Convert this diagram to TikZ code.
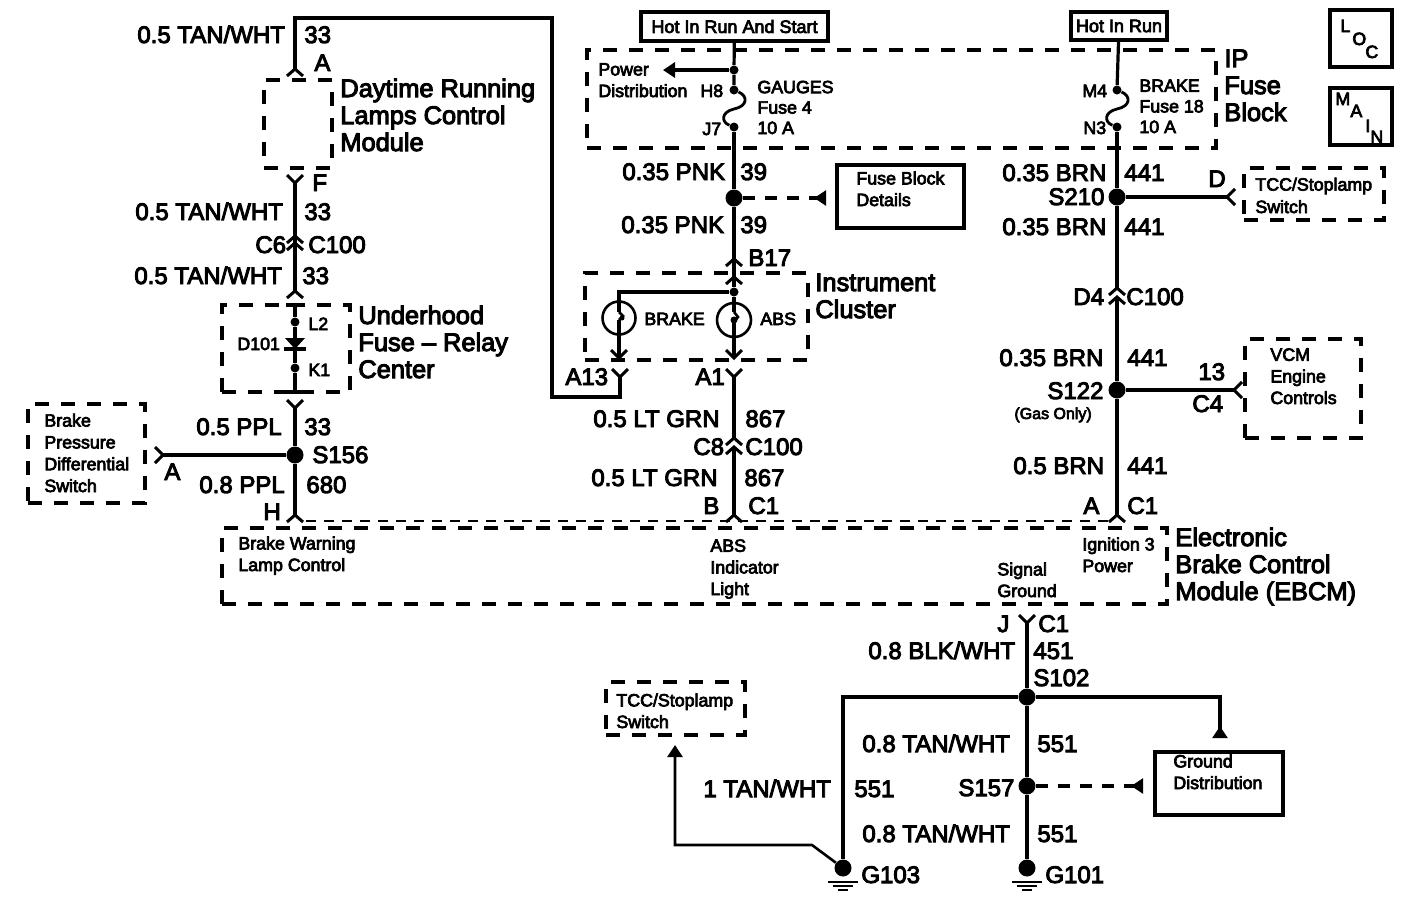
\documentclass[tikz,border=0pt]{standalone}
\usepackage{fontspec}
\setmainfont{Liberation Sans}
\newfontfamily\bigf{Liberation Sans}[FakeBold=4]
\newfontfamily\smf{Liberation Sans}[FakeBold=4]
\usetikzlibrary{arrows.meta,calc}
\tikzset{
  bigt/.style={font=\bigf\fontsize{12}{13.5}\selectfont,inner sep=0pt,anchor=base west,align=left},
  titlet/.style={font=\bigf\fontsize{12.7}{13.5}\selectfont,inner sep=0pt,anchor=base west,align=left},
  smt/.style={font=\smf\fontsize{8.9}{10.8}\selectfont,inner sep=0pt,anchor=base west,align=left},
  wire/.style={line width=1.6pt,line cap=butt,line join=miter},
  dashbox/.style={draw,line width=1.7pt,dash pattern=on 7pt off 6pt,inner sep=0pt},
  solidbox/.style={draw,line width=1.8pt,inner sep=0pt},
  dotb/.style={circle,fill,inner sep=0pt,minimum size=8.5pt},
  dots/.style={circle,fill,inner sep=0pt,minimum size=4.5pt},
  dashw/.style={line width=1.6pt,dash pattern=on 6pt off 5pt},
  tri/.tip={Triangle[length=6pt,width=7.5pt]},
  trir/.tip={Triangle[reversed,length=6pt,width=7.5pt]},
  chev/.style={line width=1.5pt}
}
% connector marks: apex at the coordinate, arms away from it
\newcommand\chU[1]{\draw[chev] ($(#1)+(-8,7)$) -- (#1) -- ($(#1)+(8,7)$);}
\newcommand\chY[1]{\draw[chev] ($(#1)+(-8,-8)$) -- (#1) -- ($(#1)+(8,-8)$);}
\newcommand\chL[1]{\draw[chev] ($(#1)+(8,-8)$) -- (#1) -- ($(#1)+(8,8)$);}
\newcommand\chR[1]{\draw[chev] ($(#1)+(-8,-8)$) -- (#1) -- ($(#1)+(-8,8)$);}
\newcommand\grd[1]{%
  \draw[line width=1.3pt] ($(#1)+(-15,14)$) -- ($(#1)+(15,14)$);
  \draw[line width=1.3pt] ($(#1)+(-10,18)$) -- ($(#1)+(10,18)$);
  \draw[line width=1.3pt] ($(#1)+(-5,22)$) -- ($(#1)+(5,22)$);}
\begin{document}
\begin{tikzpicture}[x=0.5pt,y=-0.5pt]
\useasboundingbox (0,0) rectangle (1408,902);
\fill[white] (0,0) rectangle (1408,902);

% boxes
\node[dashbox,minimum width=34pt,minimum height=44pt] (drl) at (298,124) {};
\node[dashbox,minimum width=64pt,minimum height=43.5pt] (uh) at (286,348.5) {};
\node[dashbox,minimum width=58.5pt,minimum height=49.5pt] (bpd) at (86.5,453.5) {};
\node[dashbox,minimum width=111.5pt,minimum height=43.5pt] (ic) at (696.5,316.5) {};
\node[dashbox,minimum width=472.5pt,minimum height=38pt] (ebcm) at (694.5,566) {};
\node[dashbox,minimum width=314.5pt,minimum height=49pt] (ip) at (901.5,99) {};
\node[dashbox,minimum width=70pt,minimum height=26pt] (tcca) at (1314,194) {};
\node[dashbox,minimum width=58pt,minimum height=49.5pt] (vcm) at (1303,388.5) {};
\node[dashbox,minimum width=69.5pt,minimum height=26.5pt] (tccb) at (675.5,708.5) {};
\node[solidbox,minimum width=93.5pt,minimum height=14.5pt,font=\smf\fontsize{9}{10}\selectfont] (hot1) at (734.5,26.5) {Hot In Run And Start};
\node[solidbox,minimum width=48pt,minimum height=14pt,font=\smf\fontsize{9}{10}\selectfont] (hot2) at (1119,26) {Hot In Run};
\node[solidbox,minimum width=31pt,minimum height=28.5pt] (loc) at (1361,38.5) {};
\node[solidbox,minimum width=31pt,minimum height=28.5pt] (main) at (1361,116.5) {};
\node[solidbox,minimum width=63.5pt,minimum height=31.5pt] (fbd) at (900.5,196.5) {};
\node[solidbox,minimum width=64pt,minimum height=31.5pt] (gd) at (1219,783.5) {};
\draw[line width=0.9pt,dash pattern=on 5pt off 4pt] (306,521) -- (1108,521);

% splices and pins
\node[dotb] (s39) at (734,198) {};
\node[dotb] (s210) at (1117,197) {};
\node[dotb] (s122) at (1117,390) {};
\node[dotb] (s156) at (295,455) {};
\node[dotb] (s102) at (1027,697) {};
\node[dotb] (s157) at (1027,786) {};
\node[dotb] (g103) at (843,868) {};
\node[dotb] (g101) at (1027,868) {};
\node[dots] (pd) at (734,70) {};
\node[dots] (h8) at (734,90) {};
\node[dots] (j7) at (734,127) {};
\node[dots] (m4) at (1117,90) {};
\node[dots] (n3) at (1117,127) {};
\node[dots] (icj) at (734,292) {};
\node[dots] (l2) at (295,322) {};
\node[dots] (k1) at (295,368) {};

% connector points
\coordinate (ca) at (295,69);
\coordinate (cf) at (295,183);
\coordinate (c6a) at (295,236);
\coordinate (c6b) at (295,243);
\coordinate (cuht) at (295,291);
\coordinate (cuhb) at (295,408);
\coordinate (chh) at (295,515);
\coordinate (ca13) at (620,377);
\coordinate (ca1) at (734,377);
\coordinate (cb17) at (734,259);
\coordinate (cb17b) at (734,277);
\coordinate (c8a) at (734,438);
\coordinate (c8b) at (734,447);
\coordinate (cc1) at (734,515);
\coordinate (cd4a) at (1117,288);
\coordinate (cd4b) at (1117,297);
\coordinate (cc1r) at (1117,515);
\coordinate (cj) at (1027,623);
\coordinate (cd) at (1227,197);
\coordinate (cc4) at (1234,390);
\coordinate (cba) at (163,455);
\coordinate (vb) at (619,358);
\coordinate (va) at (734,358);
\chU{ca}\chY{cf}\chU{c6a}\chU{c6b}\chU{cuht}\chY{cuhb}\chU{chh}
\chY{ca13}\chY{ca1}\chU{cb17}\chU{cb17b}\chU{c8a}\chU{c8b}\chU{cc1}
\chU{cd4a}\chU{cd4b}\chU{cc1r}\chY{cj}\chL{cd}\chL{cc4}\chR{cba}
\chY{vb}\chY{va}

% left column
\coordinate (t33) at (295,18);
\coordinate (tr) at (552,18);
\coordinate (br) at (552,397);
\coordinate (a13b) at (620,397);
\draw[wire] (ca) -- (t33) -- (tr) -- (br) -- (a13b) -- (ca13);
\draw[wire] (cf) -- (cuht);
\draw[wire] (295,305) -- (l2) -- (295,338);
\fill (285,338) -- (305,338) -- (295,349) -- cycle;
\draw[wire] (284,349) -- (306,349);
\draw[wire] (295,349) -- (k1) -- (295,392);
\draw[wire] (286,305) -- (304,305);
\draw[wire] (288,392) -- (302,392);
\draw[wire] (cuhb) -- (s156) -- (chh);
\draw[wire] (cba) -- (s156);

% middle column
\coordinate (pdt) at (663,70);
\draw[wire] (hot1) -- (pd) -- (h8);
\draw[wire,-{tri}] (pd) -- (pdt);
\draw[line width=1.4pt] (h8) .. controls (748,96) and (748,106) .. (734,109) .. controls (721,112) and (721,122) .. (j7);
\draw[wire] (j7) -- (s39) -- (cb17);
\draw[wire] (cb17) -- (cb17b) -- (icj);
\draw[dashw,-{trir},shorten >=4.5pt] (s39) -- (s39 -| fbd.west);
\coordinate (ic1) at (619,292);
\node[circle,draw,line width=1.3pt,minimum size=16.5pt,inner sep=0pt] (lbrake) at (619,318) {};
\node[circle,draw,line width=1.3pt,minimum size=17pt,inner sep=0pt] (labs) at (734,320) {};
\draw[wire] (icj) -- (ic1) -- (619,312);
\draw[line width=1.3pt] (619,312) -- (623,316) -- (619,320);
\fill (622,318) circle (2.5);
\draw[wire] (619,320) -- (vb);
\draw[wire] (icj) -- (734,312);
\draw[line width=1.3pt] (734,312) -- (738,317) -- (734,322);
\fill (734,320) circle (3.5);
\draw[wire] (734,322) -- (va);
\draw[wire] (ca1) -- (c8a);
\draw[wire] (c8b) -- (cc1);

% right column
\draw[wire] (hot2) -- (m4);
\draw[line width=1.4pt] (m4) .. controls (1131,96) and (1131,106) .. (1117,109) .. controls (1104,112) and (1104,122) .. (n3);
\draw[wire] (n3) -- (s210) -- (cd4a);
\draw[wire] (s210) -- (cd);
\draw[wire] (cd4b) -- (s122) -- (cc1r);
\draw[wire] (s122) -- (cc4);

% ground side
\coordinate (lc) at (843,697);
\coordinate (rc) at (1220,697);
\coordinate (dg1) at (812,845);
\coordinate (dg2) at (675,845);
\coordinate (dg3) at (675,745);
\draw[wire] (cj) -- (s102) -- (s157) -- (g101);
\draw[wire] (s102) -- (lc) -- (g103);
\draw[wire,-{trir},shorten >=6pt] (s102) -- (rc) -- (rc |- gd.north);
\draw[line width=1.3pt,-{tri}] (g103) -- (dg1) -- (dg2) -- (dg3);
\draw[dashw,-{trir},shorten >=5pt] (s157) -- (s157 -| gd.west);
\grd{g103}\grd{g101}

% labels, left
\node[bigt] (t1) at (137,43) {0.5 TAN/WHT};
\node[bigt] (t2) at (304,43) {33};
\node[bigt] (t3) at (314,71) {A};
\node[titlet] (t4) at (340,151) {Daytime Running\\Lamps Control\\Module};
\node[bigt] (t5) at (312,191) {F};
\node[bigt] (t6) at (135,220) {0.5 TAN/WHT};
\node[bigt] (t7) at (304,220) {33};
\node[bigt] (t8) at (255,253) {C6};
\node[bigt] (t9) at (308,253) {C100};
\node[bigt] (t10) at (134,284) {0.5 TAN/WHT};
\node[bigt] (t11) at (302,284) {33};
\node[titlet] (t12) at (358,378) {Underhood\\Fuse – Relay\\Center};
\node[smt] (t13) at (237,350) {D101};
\node[smt] (t14) at (308,330) {L2};
\node[smt] (t15) at (308,376) {K1};
\node[bigt] (t16) at (196,435) {0.5 PPL};
\node[bigt] (t17) at (304,435) {33};
\node[bigt] (t18) at (312,463) {S156};
\node[bigt] (t19) at (164,480) {A};
\node[bigt] (t20) at (199,493) {0.8 PPL};
\node[bigt] (t21) at (306,493) {680};
\node[bigt] (t22) at (263,520) {H};
\node[smt,font=\smf\fontsize{8.9}{10.9}\selectfont] (t23) at (44,492) {Brake\\Pressure\\Differential\\Switch};

% labels, middle
\node[smt] (t24) at (598,97) {Power\\Distribution};
\node[smt] (t25) at (700,97) {H8};
\node[smt] (t26) at (702,135) {J7};
\node[smt,font=\smf\fontsize{8.9}{10.2}\selectfont] (t27) at (757,134) {GAUGES\\Fuse 4\\10 A};
\node[bigt] (t28) at (622,180) {0.35 PNK};
\node[bigt] (t29) at (740,180) {39};
\node[bigt] (t30) at (621,233) {0.35 PNK};
\node[bigt] (t31) at (740,233) {39};
\node[smt] (t32) at (856,206) {Fuse Block\\Details};
\node[bigt] (t33l) at (748,266) {B17};
\node[titlet] (t34) at (815,318) {Instrument\\Cluster};
\node[smt] (t35) at (644,325) {BRAKE};
\node[smt] (t36) at (760,325) {ABS};
\node[bigt] (t37) at (565,385) {A13};
\node[bigt] (t38) at (695,385) {A1};
\node[bigt] (t39) at (593,427) {0.5 LT GRN};
\node[bigt] (t40) at (745,427) {867};
\node[bigt] (t41) at (693,455) {C8};
\node[bigt] (t42) at (745,455) {C100};
\node[bigt] (t43) at (591,486) {0.5 LT GRN};
\node[bigt] (t44) at (744,486) {867};
\node[bigt] (t45) at (703,514) {B};
\node[bigt] (t46) at (748,514) {C1};

% labels, right
\node[smt] (t47) at (1082,97) {M4};
\node[smt] (t48) at (1083,134) {N3};
\node[smt,font=\smf\fontsize{8.9}{10.3}\selectfont] (t49) at (1139,133) {BRAKE\\Fuse 18\\10 A};
\node[titlet] (t50) at (1224,121) {IP\\Fuse\\Block};
\node[bigt] (t51) at (1002,181) {0.35 BRN};
\node[bigt] (t52) at (1124,181) {441};
\node[bigt] (t53) at (1048,205) {S210};
\node[bigt] (t54) at (1002,235) {0.35 BRN};
\node[bigt] (t55) at (1124,235) {441};
\node[bigt] (t56) at (1208,187) {D};
\node[smt,font=\smf\fontsize{8.9}{11.2}\selectfont] (t57) at (1255,213) {TCC/Stoplamp\\Switch};
\node[bigt] (t58) at (1073,305) {D4};
\node[bigt] (t59) at (1126,305) {C100};
\node[bigt] (t60) at (999,366) {0.35 BRN};
\node[bigt] (t61) at (1127,366) {441};
\node[bigt] (t62) at (1047,399) {S122};
\node[smt,font=\smf\fontsize{8}{10}\selectfont] (t63) at (1014,419) {(Gas Only)};
\node[bigt] (t64) at (1198,380) {13};
\node[bigt] (t65) at (1192,412) {C4};
\node[smt] (t66) at (1270,404) {VCM\\Engine\\Controls};
\node[bigt] (t67) at (1013,474) {0.5 BRN};
\node[bigt] (t68) at (1127,474) {441};
\node[bigt] (t69) at (1083,514) {A};
\node[bigt] (t70) at (1127,514) {C1};

% EBCM
\node[titlet] (t71) at (1175,600) {Electronic\\Brake Control\\Module (EBCM)};
\node[smt] (t72) at (238,571) {Brake Warning\\Lamp Control};
\node[smt] (t73) at (710,595) {ABS\\Indicator\\Light};
\node[smt] (t74) at (1082,572) {Ignition 3\\Power};
\node[smt] (t75) at (997,597) {Signal\\Ground};

% lower
\node[bigt] (t76) at (997,632) {J};
\node[bigt] (t77) at (1038,632) {C1};
\node[bigt] (t78) at (868,659) {0.8 BLK/WHT};
\node[bigt] (t79) at (1033,659) {451};
\node[bigt] (t80) at (1033,686) {S102};
\node[bigt] (t81) at (862,752) {0.8 TAN/WHT};
\node[bigt] (t82) at (1037,752) {551};
\node[bigt] (t83) at (703,797) {1 TAN/WHT};
\node[bigt] (t84) at (854,797) {551};
\node[bigt] (t85) at (958,796) {S157};
\node[bigt] (t86) at (862,842) {0.8 TAN/WHT};
\node[bigt] (t87) at (1037,842) {551};
\node[bigt] (t88) at (861,883) {G103};
\node[bigt] (t89) at (1045,883) {G101};
\node[smt] (t90) at (1173,789) {Ground\\Distribution};
\node[smt] (t91) at (616,728) {TCC/Stoplamp\\Switch};

% LOC, MAIN
\node[smt] (l1) at (1340,32) {L};
\node[smt] (l2t) at (1352,45) {O};
\node[smt] (l3) at (1365,58) {C};
\node[smt] (m1) at (1335,105) {M};
\node[smt] (m2) at (1350,117) {A};
\node[smt] (m3) at (1365,132) {I};
\node[smt] (m4t) at (1370,143) {N};
\end{tikzpicture}
\end{document}
